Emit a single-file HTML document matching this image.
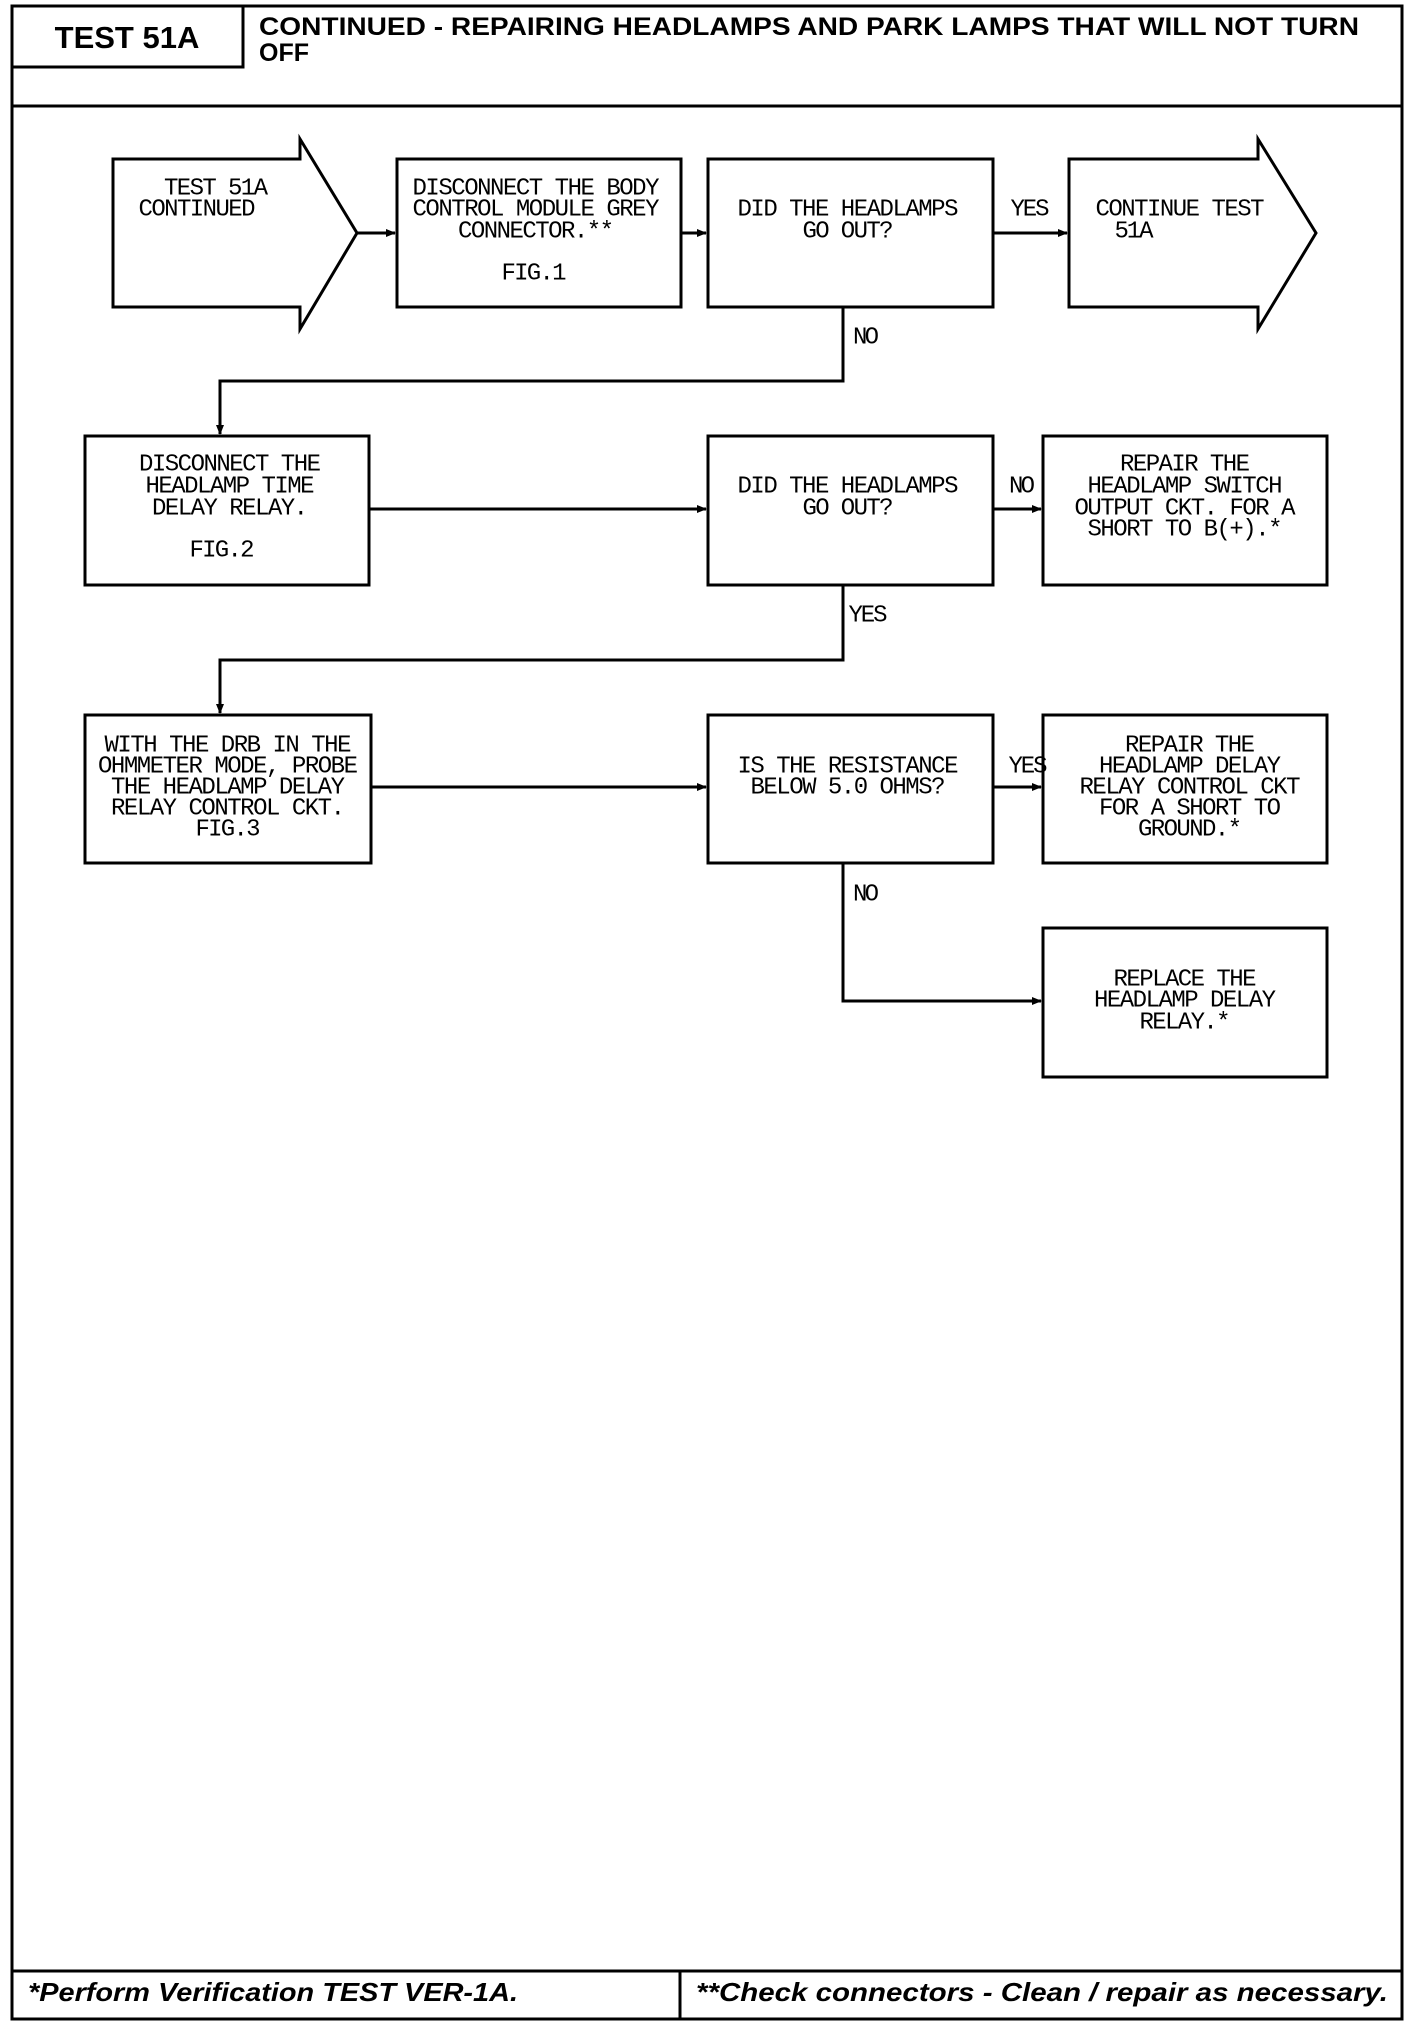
<!DOCTYPE html>
<html><head><meta charset="utf-8"><style>
html,body{margin:0;padding:0;background:#fff;}
svg{display:block;}
.m{font-family:"Liberation Mono",monospace;font-size:24px;fill:#000;}
.h{font-family:"Liberation Sans",sans-serif;font-weight:bold;fill:#000;}
</style></head><body>
<svg width="1424" height="2032" viewBox="0 0 1424 2032" xmlns="http://www.w3.org/2000/svg">
<defs><marker id="a" markerWidth="10" markerHeight="10" refX="9" refY="5" orient="auto" markerUnits="userSpaceOnUse"><path d="M0,1 L10,5 L0,9 z" fill="#000"/></marker></defs>
<g fill="none" stroke="#000" stroke-width="3">
<rect x="12" y="6" width="1390" height="2013"/>
<rect x="12" y="6" width="231" height="61"/>
<line x1="12" y1="106" x2="1402" y2="106"/>
<line x1="12" y1="1971" x2="1402" y2="1971"/>
<line x1="680" y1="1971" x2="680" y2="2019"/>
<path d="M113,159 H300 V139 L357,233 L300,329 V307 H113 Z"/>
<rect x="397" y="159" width="284" height="148"/>
<rect x="708" y="159" width="285" height="148"/>
<path d="M1069,159 H1258 V139 L1316,233 L1258,329 V307 H1069 Z"/>
<rect x="85" y="436" width="284" height="149"/>
<rect x="708" y="436" width="285" height="149"/>
<rect x="1043" y="436" width="284" height="149"/>
<rect x="85" y="715" width="286" height="148"/>
<rect x="708" y="715" width="285" height="148"/>
<rect x="1043" y="715" width="284" height="148"/>
<rect x="1043" y="928" width="284" height="149"/>
<line x1="357" y1="233" x2="395" y2="233" marker-end="url(#a)"/>
<line x1="681" y1="233" x2="706" y2="233" marker-end="url(#a)"/>
<line x1="993" y1="233" x2="1067" y2="233" marker-end="url(#a)"/>
<polyline points="843,307 843,381 220,381 220,434" marker-end="url(#a)"/>
<line x1="369" y1="509" x2="706" y2="509" marker-end="url(#a)"/>
<line x1="993" y1="509" x2="1041" y2="509" marker-end="url(#a)"/>
<polyline points="843,585 843,660 220,660 220,713" marker-end="url(#a)"/>
<line x1="371" y1="787" x2="706" y2="787" marker-end="url(#a)"/>
<line x1="993" y1="787" x2="1041" y2="787" marker-end="url(#a)"/>
<polyline points="843,863 843,1001 1041,1001" marker-end="url(#a)"/>
</g>
<text class="h" x="127" y="48" font-size="31" text-anchor="middle">TEST 51A</text>
<text class="h" x="259" y="35" font-size="25" textLength="1100" lengthAdjust="spacingAndGlyphs">CONTINUED - REPAIRING HEADLAMPS AND PARK LAMPS THAT WILL NOT TURN</text>
<text class="h" x="259" y="61" font-size="25">OFF</text>
<text class="h" x="28" y="2001" font-size="26" font-style="italic" textLength="490" lengthAdjust="spacingAndGlyphs">*Perform Verification TEST VER-1A.</text>
<text class="h" x="696" y="2001" font-size="26" font-style="italic" textLength="692" lengthAdjust="spacingAndGlyphs">**Check connectors - Clean / repair as necessary.</text>
<g class="m" text-anchor="middle" dominant-baseline="central" lengthAdjust="spacingAndGlyphs">
<text x="216" y="189" textLength="104">TEST 51A</text>
<text x="197" y="210" textLength="117">CONTINUED</text>
<text x="536" y="189" textLength="247">DISCONNECT THE BODY</text>
<text x="536" y="210" textLength="247">CONTROL MODULE GREY</text>
<text x="536" y="232" textLength="156">CONNECTOR.**</text>
<text x="534" y="274" textLength="65">FIG.1</text>
<text x="848" y="210" textLength="221">DID THE HEADLAMPS</text>
<text x="848" y="232" textLength="91">GO OUT?</text>
<text x="1180" y="210" textLength="169">CONTINUE TEST</text>
<text x="1134" y="232" textLength="39">51A</text>
<text x="1030" y="210" textLength="39">YES</text>
<text x="866" y="338" textLength="26">NO</text>
<text x="230" y="465" textLength="182">DISCONNECT THE</text>
<text x="230" y="487" textLength="169">HEADLAMP TIME</text>
<text x="230" y="509" textLength="156">DELAY RELAY.</text>
<text x="222" y="551" textLength="65">FIG.2</text>
<text x="848" y="487" textLength="221">DID THE HEADLAMPS</text>
<text x="848" y="509" textLength="91">GO OUT?</text>
<text x="1022" y="487" textLength="26">NO</text>
<text x="1185" y="465" textLength="130">REPAIR THE</text>
<text x="1185" y="487" textLength="195">HEADLAMP SWITCH</text>
<text x="1185" y="509" textLength="221">OUTPUT CKT. FOR A</text>
<text x="1185" y="530" textLength="195">SHORT TO B(+).*</text>
<text x="868" y="616" textLength="39">YES</text>
<text x="228" y="746" textLength="247">WITH THE DRB IN THE</text>
<text x="228" y="767" textLength="260">OHMMETER MODE, PROBE</text>
<text x="228" y="788" textLength="234">THE HEADLAMP DELAY</text>
<text x="228" y="809" textLength="234">RELAY CONTROL CKT.</text>
<text x="228" y="830" textLength="65">FIG.3</text>
<text x="848" y="767" textLength="221">IS THE RESISTANCE</text>
<text x="848" y="788" textLength="195">BELOW 5.0 OHMS?</text>
<text x="1028" y="767" textLength="39">YES</text>
<text x="1190" y="746" textLength="130">REPAIR THE</text>
<text x="1190" y="767" textLength="182">HEADLAMP DELAY</text>
<text x="1190" y="788" textLength="221">RELAY CONTROL CKT</text>
<text x="1190" y="809" textLength="182">FOR A SHORT TO</text>
<text x="1190" y="830" textLength="104">GROUND.*</text>
<text x="866" y="895" textLength="26">NO</text>
<text x="1185" y="980" textLength="143">REPLACE THE</text>
<text x="1185" y="1001" textLength="182">HEADLAMP DELAY</text>
<text x="1185" y="1023" textLength="91">RELAY.*</text>
</g>
</svg>
</body></html>
